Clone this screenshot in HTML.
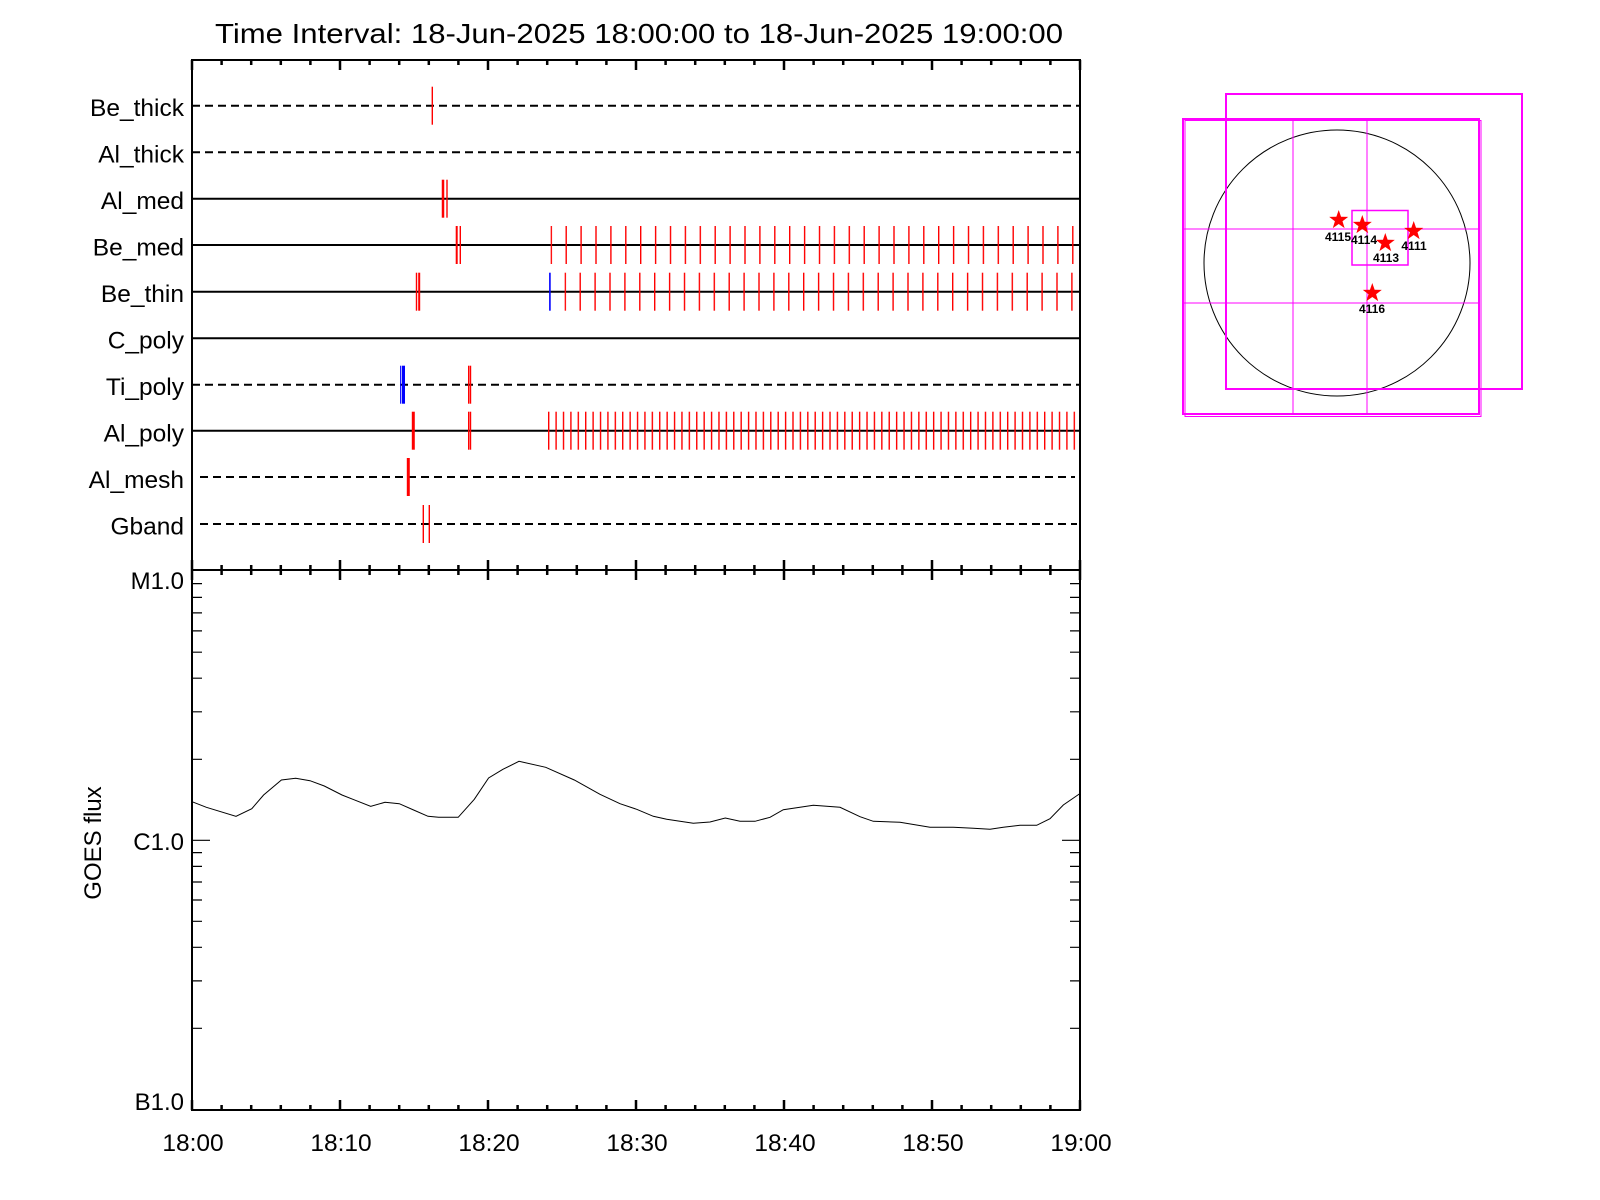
<!DOCTYPE html>
<html><head><meta charset="utf-8"><style>
html,body{margin:0;padding:0;background:#fff;}
svg{display:block;}
text{font-family:"Liberation Sans",sans-serif;fill:#000;}
</style></head><body>
<svg width="1600" height="1200" viewBox="0 0 1600 1200" xmlns="http://www.w3.org/2000/svg">
<defs>
<pattern id="p1" x="550.6" y="0" width="14.9" height="1200" patternUnits="userSpaceOnUse"><rect x="0" y="0" width="1.4" height="1200" fill="#f00"/></pattern>
<pattern id="p2" x="564.6" y="0" width="14.9" height="1200" patternUnits="userSpaceOnUse"><rect x="0" y="0" width="1.4" height="1200" fill="#f00"/></pattern>
<pattern id="p3" x="548.0" y="0" width="7.403" height="1200" patternUnits="userSpaceOnUse"><rect x="0" y="0" width="1.4" height="1200" fill="#f00"/></pattern>
</defs>

<text x="639" y="43" font-size="28" text-anchor="middle" textLength="848" lengthAdjust="spacingAndGlyphs">Time Interval: 18-Jun-2025 18:00:00 to 18-Jun-2025 19:00:00</text>

<g stroke="#000" stroke-width="2" fill="none">
<line x1="192" y1="105.7" x2="1080" y2="105.7" stroke-dasharray="8,5"/>
<line x1="192" y1="152.3" x2="1080" y2="152.3" stroke-dasharray="8,5"/>
<line x1="192" y1="198.7" x2="1080" y2="198.7"/>
<line x1="192" y1="245" x2="1080" y2="245"/>
<line x1="192" y1="291.7" x2="1080" y2="291.7"/>
<line x1="192" y1="338.2" x2="1080" y2="338.2"/>
<line x1="192" y1="384.7" x2="1080" y2="384.7" stroke-dasharray="8,5"/>
<line x1="192" y1="430.7" x2="1080" y2="430.7"/>
<line x1="200" y1="477" x2="1075" y2="477" stroke-dasharray="8,5"/>
<line x1="200" y1="524" x2="1077" y2="524" stroke-dasharray="8,5"/>
</g>

<g font-size="24.5" text-anchor="end">
<text x="184" y="116">Be_thick</text>
<text x="184" y="162.5">Al_thick</text>
<text x="184" y="209">Al_med</text>
<text x="184" y="255.5">Be_med</text>
<text x="184" y="302">Be_thin</text>
<text x="184" y="348.5">C_poly</text>
<text x="184" y="395">Ti_poly</text>
<text x="184" y="441.5">Al_poly</text>
<text x="184" y="488">Al_mesh</text>
<text x="184" y="534.5">Gband</text>
</g>

<g stroke="#f00" stroke-width="1.4">
<line x1="432.3" y1="86.7" x2="432.3" y2="124.7"/>
<line x1="443" y1="179.7" x2="443" y2="217.7" stroke-width="2.5"/>
<line x1="447" y1="179.7" x2="447" y2="217.7"/>
<line x1="456.7" y1="226" x2="456.7" y2="264" stroke-width="2"/>
<line x1="460.3" y1="226" x2="460.3" y2="264"/>
<line x1="416.5" y1="272.7" x2="416.5" y2="310.7"/>
<line x1="419.2" y1="272.7" x2="419.2" y2="310.7" stroke-width="2"/>
<line x1="468.7" y1="365.7" x2="468.7" y2="403.7"/>
<line x1="470.5" y1="365.7" x2="470.5" y2="403.7"/>
<line x1="413.3" y1="411.7" x2="413.3" y2="449.7" stroke-width="3"/>
<line x1="468.7" y1="411.7" x2="468.7" y2="449.7"/>
<line x1="470.5" y1="411.7" x2="470.5" y2="449.7"/>
<line x1="408.3" y1="458" x2="408.3" y2="496" stroke-width="3"/>
<line x1="423.3" y1="505" x2="423.3" y2="543"/>
<line x1="429.3" y1="505" x2="429.3" y2="543"/>
</g>
<g stroke="#00f">
<line x1="400.7" y1="365.7" x2="400.7" y2="403.7" stroke-width="1.2"/>
<line x1="403.5" y1="365.7" x2="403.5" y2="403.7" stroke-width="3"/>
<line x1="549.9" y1="272.7" x2="549.9" y2="310.7" stroke-width="1.6"/>
</g>
<rect x="550.6" y="226" width="524" height="38" fill="url(#p1)"/>
<rect x="564.6" y="272.7" width="510" height="38" fill="url(#p2)"/>
<rect x="548.0" y="411.7" width="527.5" height="38" fill="url(#p3)"/>

<rect x="192" y="60" width="888" height="510" fill="none" stroke="#000" stroke-width="2"/>
<g stroke="#000" stroke-width="2.5">
<path d="M192,60v10 M340,60v10 M488,60v10 M636,60v10 M784,60v10 M932,60v10 M1080,60v10
M221.6,60v5 M251.2,60v5 M280.8,60v5 M310.4,60v5 M369.6,60v5 M399.2,60v5 M428.8,60v5 M458.4,60v5 M517.6,60v5 M547.2,60v5 M576.8,60v5 M606.4,60v5 M665.6,60v5 M695.2,60v5 M724.8,60v5 M754.4,60v5 M813.6,60v5 M843.2,60v5 M872.8,60v5 M902.4,60v5 M961.6,60v5 M991.2,60v5 M1020.8,60v5 M1050.4,60v5"/>
<path d="M192,560v20 M340,560v20 M488,560v20 M636,560v20 M784,560v20 M932,560v20 M1080,560v20
M221.6,565v10 M251.2,565v10 M280.8,565v10 M310.4,565v10 M369.6,565v10 M399.2,565v10 M428.8,565v10 M458.4,565v10 M517.6,565v10 M547.2,565v10 M576.8,565v10 M606.4,565v10 M665.6,565v10 M695.2,565v10 M724.8,565v10 M754.4,565v10 M813.6,565v10 M843.2,565v10 M872.8,565v10 M902.4,565v10 M961.6,565v10 M991.2,565v10 M1020.8,565v10 M1050.4,565v10"/>
<path d="M192,1110v-10 M340,1110v-10 M488,1110v-10 M636,1110v-10 M784,1110v-10 M932,1110v-10 M1080,1110v-10
M221.6,1110v-5 M251.2,1110v-5 M280.8,1110v-5 M310.4,1110v-5 M369.6,1110v-5 M399.2,1110v-5 M428.8,1110v-5 M458.4,1110v-5 M517.6,1110v-5 M547.2,1110v-5 M576.8,1110v-5 M606.4,1110v-5 M665.6,1110v-5 M695.2,1110v-5 M724.8,1110v-5 M754.4,1110v-5 M813.6,1110v-5 M843.2,1110v-5 M872.8,1110v-5 M902.4,1110v-5 M961.6,1110v-5 M991.2,1110v-5 M1020.8,1110v-5 M1050.4,1110v-5"/>
</g>

<rect x="192" y="570" width="888" height="540" fill="none" stroke="#000" stroke-width="2"/>
<g stroke="#000" stroke-width="1.2">
<path d="M192,583.6h10 M192,597.4h10 M192,612.9h10 M192,630.9h10 M192,652.2h10 M192,678.2h10 M192,711.8h10 M192,759.3h10 M192,840.3h18
M192,852.6h10 M192,866.4h10 M192,882h10 M192,900h10 M192,921.3h10 M192,947.3h10 M192,980.9h10 M192,1028.3h10"/>
<path d="M1080,583.6h-10 M1080,597.4h-10 M1080,612.9h-10 M1080,630.9h-10 M1080,652.2h-10 M1080,678.2h-10 M1080,711.8h-10 M1080,759.3h-10 M1080,840.3h-18
M1080,852.6h-10 M1080,866.4h-10 M1080,882h-10 M1080,900h-10 M1080,921.3h-10 M1080,947.3h-10 M1080,980.9h-10 M1080,1028.3h-10"/>
</g>
<g font-size="24" text-anchor="end">
<text x="184" y="589">M1.0</text>
<text x="184" y="850">C1.0</text>
<text x="184" y="1110">B1.0</text>
</g>
<text transform="translate(101,843) rotate(-90)" font-size="24" text-anchor="middle">GOES flux</text>

<polyline fill="none" stroke="#000" stroke-width="1" points="192,801.7 206.4,807.3 236,816.3 251.8,808.7 263.6,795 281.4,780 295.7,778.3 310,780.7 324.3,786 342,795 352.9,799.3 370.7,806.3 385,802.3 399.3,803.7 413.6,810 428,816.3 438.6,817.3 458.2,817.3 474.3,799.3 488.6,778 502.9,769.3 519,761.3 545.7,767.3 574.3,780 600,794.3 620,803.7 636.7,809.3 653.3,816.3 666.7,819.3 693.3,823.3 710,822 725.3,818 740,821.3 755,821.3 770,817.3 783.3,809.7 813.3,805.3 840,807.3 860,816.7 873.3,821.3 900,822.3 930,827.3 953.3,827.3 973.3,828.3 990,829.3 1003.3,827.3 1020,825.3 1036.7,825.3 1050,818.7 1063.3,805 1079.3,794"/>

<g font-size="24.5" text-anchor="middle">
<text x="193" y="1151">18:00</text>
<text x="341" y="1151">18:10</text>
<text x="489" y="1151">18:20</text>
<text x="637" y="1151">18:30</text>
<text x="785" y="1151">18:40</text>
<text x="933" y="1151">18:50</text>
<text x="1081" y="1151">19:00</text>
</g>

<circle cx="1337" cy="263" r="133" fill="none" stroke="#000" stroke-width="1"/>
<g fill="none" stroke="#f0f">
<rect x="1226" y="94" width="296" height="295" stroke-width="2"/>
<rect x="1183" y="119" width="296" height="295" stroke-width="2"/>
<rect x="1185" y="120.5" width="296" height="296" stroke-width="1"/>
<line x1="1293" y1="119" x2="1293" y2="414" stroke-width="1"/>
<line x1="1367" y1="119" x2="1367" y2="414" stroke-width="1"/>
<line x1="1183" y1="229" x2="1479" y2="229" stroke-width="1"/>
<line x1="1183" y1="303" x2="1479" y2="303" stroke-width="1"/>
<rect x="1352" y="210.5" width="56" height="54.5" stroke-width="1.5"/>
</g>
<g fill="#f00">
<polygon transform="translate(1338.7,220)" points="0,-10 2.35,-3.2 9.5,-3.1 3.8,1.2 5.9,8.1 0,4 -5.9,8.1 -3.8,1.2 -9.5,-3.1 -2.35,-3.2"/>
<polygon transform="translate(1362.3,225)" points="0,-10 2.35,-3.2 9.5,-3.1 3.8,1.2 5.9,8.1 0,4 -5.9,8.1 -3.8,1.2 -9.5,-3.1 -2.35,-3.2"/>
<polygon transform="translate(1385.3,243)" points="0,-10 2.35,-3.2 9.5,-3.1 3.8,1.2 5.9,8.1 0,4 -5.9,8.1 -3.8,1.2 -9.5,-3.1 -2.35,-3.2"/>
<polygon transform="translate(1413.7,231)" points="0,-10 2.35,-3.2 9.5,-3.1 3.8,1.2 5.9,8.1 0,4 -5.9,8.1 -3.8,1.2 -9.5,-3.1 -2.35,-3.2"/>
<polygon transform="translate(1372.3,293)" points="0,-10 2.35,-3.2 9.5,-3.1 3.8,1.2 5.9,8.1 0,4 -5.9,8.1 -3.8,1.2 -9.5,-3.1 -2.35,-3.2"/>
</g>
<g font-size="12" font-weight="bold" text-anchor="middle">
<text x="1338" y="241">4115</text>
<text x="1364" y="244">4114</text>
<text x="1386" y="262">4113</text>
<text x="1414" y="250">4111</text>
<text x="1372" y="313">4116</text>
</g>
</svg>
</body></html>
